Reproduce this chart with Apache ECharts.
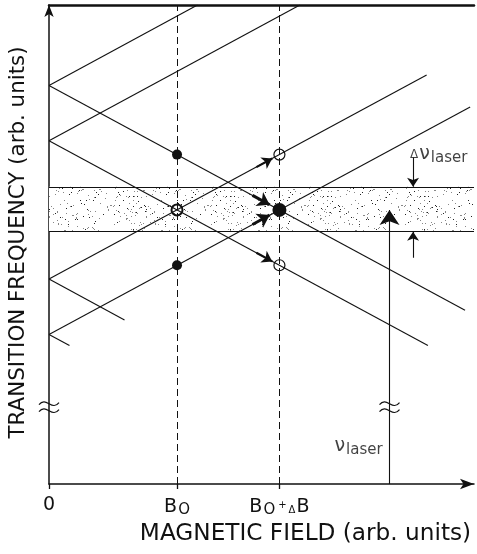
<!DOCTYPE html>
<html>
<head>
<meta charset="utf-8">
<script src="https://cdn.jsdelivr.net/npm/echarts@6/dist/echarts.min.js"></script>
<style>
html, body { margin: 0; padding: 0; background: #fff; }
#chart { width: 477px; height: 554px; }
</style>
</head>
<body>
<div id="chart"></div>
<script>
// Zeeman-type level crossing diagram, arbitrary units on both axes
var fieldTicks = [0, 5, 9];
var fieldLabels = ['{b|0}', '{b|B}{o|O}', '{b|B}{o|O}{p|+}{d|Δ}{b|B}'];
var levelsAtZero = [15.56, 13.4, 8.0, 5.84];
var risingEnds = [[5.8, 18.7], [9.8, 18.7], [14.75, 15.97], [16.45, 14.72]];
var fallingEnds = [[16.25, 6.78], [14.8, 5.41], [2.95, 6.4], [0.8, 5.41]];
var laserBand = [9.85, 11.6];
var laserX = 13.3;
var laserLevel = 10.7;
var breakLevel = 3.0;
var filledDots = [[5, 12.86], [5, 8.54]];
var openDots = [[9, 12.86], [9, 8.54]];
var crossDot = [[5, 10.7]];
var resonanceDot = [[9, 10.7]];
var smallArrows = [[[8.1, 12.37], [8.72, 12.71]], [[8.1, 9.03], [8.72, 8.69]]];
var bigArrows = [[[7.95, 11.27], [8.62, 10.9]], [[7.95, 10.13], [8.62, 10.5]]];
var widthArrows = [[[14.22, 12.75], [14.22, 11.6]], [[14.22, 8.83], [14.22, 9.85]]];

var ink = '#111';
var font = 'DejaVu Sans';

// dotted texture for the laser band (fixed hash, same every run)
function stipple() {
	var w = 97, h = 61;
	var c = document.createElement('canvas');
	c.width = w;
	c.height = h;
	var g = c.getContext('2d');
	g.fillStyle = '#fff';
	g.fillRect(0, 0, w, h);
	for (var y = 0; y < h; y++) {
		for (var x = 0; x < w; x++) {
			var t = Math.sin(x * 12.9898 + y * 78.233) * 43758.5453;
			t = t - Math.floor(t);
			if (t < 0.04) {
				g.fillStyle = t < 0.012 ? '#222' : '#888';
				g.fillRect(x, y, 1, 1);
			}
		}
	}
	return c;
}

var branches = [];
for (var i = 0; i < levelsAtZero.length; i++) {
	branches.push({ coords: [[0, levelsAtZero[i]], risingEnds[i]] });
	branches.push({ coords: [[0, levelsAtZero[i]], fallingEnds[i]] });
}

function arrowData(list) {
	return list.map(function (a) { return { coords: a }; });
}

function tilde(cx, cy) {
	return {
		type: 'bezierCurve',
		shape: { x1: cx - 10, y1: cy + 1, cpx1: cx - 3, cpy1: cy - 8, cpx2: cx + 3, cpy2: cy + 8, x2: cx + 10, y2: cy - 1 },
		style: { stroke: ink, lineWidth: 1.2, fill: null }
	};
}

var chart = echarts.init(document.getElementById('chart'));
chart.setOption({
	animation: false,
	backgroundColor: '#fff',
	grid: { left: 49, right: 3, top: 5, bottom: 70 },
	xAxis: [{
		type: 'value',
		min: 0,
		max: 16.6,
		name: 'MAGNETIC FIELD (arb. units)',
		nameLocation: 'middle',
		nameGap: 36,
		nameTextStyle: { fontFamily: font, fontSize: 23.2, color: ink, padding: [0, 0, 0, 88] },
		axisLine: { lineStyle: { color: ink, width: 1.5 }, symbol: ['none', 'arrow'], symbolSize: [8, 14] },
		axisTick: { customValues: fieldTicks, length: 5, lineStyle: { color: ink, width: 1.3 } },
		axisLabel: {
			customValues: fieldTicks,
			margin: 12,
			color: ink,
			fontFamily: font,
			fontSize: 19,
			formatter: function (v) { return fieldLabels[fieldTicks.indexOf(v)]; },
			rich: {
				b: { fontFamily: font, fontSize: 19, color: ink },
				o: { fontFamily: font, fontSize: 15, color: ink, padding: [7, 0, 0, 1] },
				p: { fontFamily: font, fontSize: 10, color: ink, padding: [0, 2, 4, 3] },
				d: { fontFamily: font, fontSize: 10, color: ink, padding: [7, 1, 0, 0] }
			}
		},
		splitLine: { show: false }
	}, {
		type: 'value',
		position: 'top',
		min: 0,
		max: 16.6,
		axisLine: { lineStyle: { color: ink, width: 2.5 } },
		axisTick: { show: false },
		axisLabel: { show: false },
		splitLine: { show: false }
	}],
	yAxis: {
		type: 'value',
		min: 0,
		max: 18.7,
		name: 'TRANSITION FREQUENCY (arb. units)',
		nameLocation: 'middle',
		nameRotate: 90,
		nameGap: 20,
		nameTextStyle: { fontFamily: font, fontSize: 21.4, color: ink, padding: [0, 0, 0, 4] },
		axisLine: { lineStyle: { color: ink, width: 1.5 }, symbol: ['none', 'arrow'], symbolSize: [7, 12] },
		axisTick: { show: false },
		axisLabel: { show: false },
		splitLine: { show: false }
	},
	series: [{
		name: 'band',
		type: 'scatter',
		data: [],
		z: 1,
		markArea: {
			silent: true,
			itemStyle: { color: { image: stipple(), repeat: 'repeat' }, opacity: 1 },
			data: [[{ xAxis: 0, yAxis: laserBand[0] }, { xAxis: 16.6, yAxis: laserBand[1] }]]
		},
		markLine: {
			silent: true,
			symbol: ['none', 'none'],
			label: { show: false },
			lineStyle: { color: ink, width: 1.2, type: 'solid' },
			data: [{ yAxis: laserBand[0] }, { yAxis: laserBand[1] }]
		}
	}, {
		name: 'fields',
		type: 'scatter',
		data: [],
		z: 2,
		markLine: {
			silent: true,
			symbol: ['none', 'none'],
			label: { show: false },
			lineStyle: { color: ink, width: 1, type: [7, 4] },
			data: [{ xAxis: fieldTicks[1] }, { xAxis: fieldTicks[2] }]
		}
	}, {
		name: 'levels',
		type: 'lines',
		coordinateSystem: 'cartesian2d',
		z: 3,
		lineStyle: { color: ink, width: 1.1, opacity: 1 },
		data: branches
	}, {
		name: 'laser',
		type: 'lines',
		coordinateSystem: 'cartesian2d',
		z: 3,
		symbol: ['none', 'arrow'],
		symbolSize: [7, 15],
		lineStyle: { color: ink, width: 1.1, opacity: 1 },
		data: [{ coords: [[laserX, 0], [laserX, laserLevel]] }]
	}, {
		name: 'width',
		type: 'lines',
		coordinateSystem: 'cartesian2d',
		z: 3,
		symbol: ['none', 'arrow'],
		symbolSize: [6, 9],
		lineStyle: { color: ink, width: 1.1, opacity: 1 },
		data: arrowData(widthArrows)
	}, {
		name: 'small arrows',
		type: 'lines',
		coordinateSystem: 'cartesian2d',
		z: 4,
		symbol: ['none', 'arrow'],
		symbolSize: [7, 10],
		lineStyle: { color: ink, width: 2.2, opacity: 1 },
		data: arrowData(smallArrows)
	}, {
		name: 'big arrows',
		type: 'lines',
		coordinateSystem: 'cartesian2d',
		z: 4,
		symbol: ['none', 'arrow'],
		symbolSize: [9, 12],
		lineStyle: { color: ink, width: 3, opacity: 1 },
		data: arrowData(bigArrows)
	}, {
		name: 'filled',
		type: 'scatter',
		z: 5,
		symbol: 'circle',
		symbolSize: 10,
		itemStyle: { color: ink, opacity: 1 },
		data: filledDots
	}, {
		name: 'open',
		type: 'scatter',
		z: 5,
		symbol: 'circle',
		symbolSize: 11,
		itemStyle: { color: 'rgba(0,0,0,0)', borderColor: ink, borderWidth: 1.2, opacity: 1 },
		data: openDots
	}, {
		name: 'crossing',
		type: 'scatter',
		z: 5,
		symbol: 'circle',
		symbolSize: 11,
		itemStyle: { color: 'rgba(0,0,0,0)', borderColor: ink, borderWidth: 2, opacity: 1 },
		data: crossDot
	}, {
		name: 'resonance',
		type: 'scatter',
		z: 5,
		symbol: 'circle',
		symbolSize: 14,
		itemStyle: { color: ink, opacity: 1 },
		data: resonanceDot
	}, {
		name: 'breaks',
		type: 'custom',
		z: 6,
		silent: true,
		data: [[0, breakLevel], [laserX, breakLevel]],
		renderItem: function (params, api) {
			var p = api.coord([api.value(0), api.value(1)]);
			return { type: 'group', children: [tilde(p[0], p[1] - 3.5), tilde(p[0], p[1] + 3.5)] };
		}
	}, {
		name: 'notes',
		type: 'scatter',
		z: 6,
		silent: true,
		symbolSize: 0,
		label: {
			show: true,
			position: 'right',
			distance: 0,
			color: ink,
			rich: {
				d: { fontFamily: font, fontSize: 12, color: ink, padding: [2, 1, 0, 0] },
				n: { fontFamily: font, fontSize: 19, color: ink },
				s: { fontFamily: font, fontSize: 15, color: ink, padding: [9, 0, 0, 1] }
			}
		},
		data: [
			{ value: [14.1, 12.9], label: { formatter: '{d|Δ}{n|ν}{s|laser}' } },
			{ value: [11.15, 1.5], label: { formatter: '{n|ν}{s|laser}' } }
		]
	}]
});
</script>
</body>
</html>
